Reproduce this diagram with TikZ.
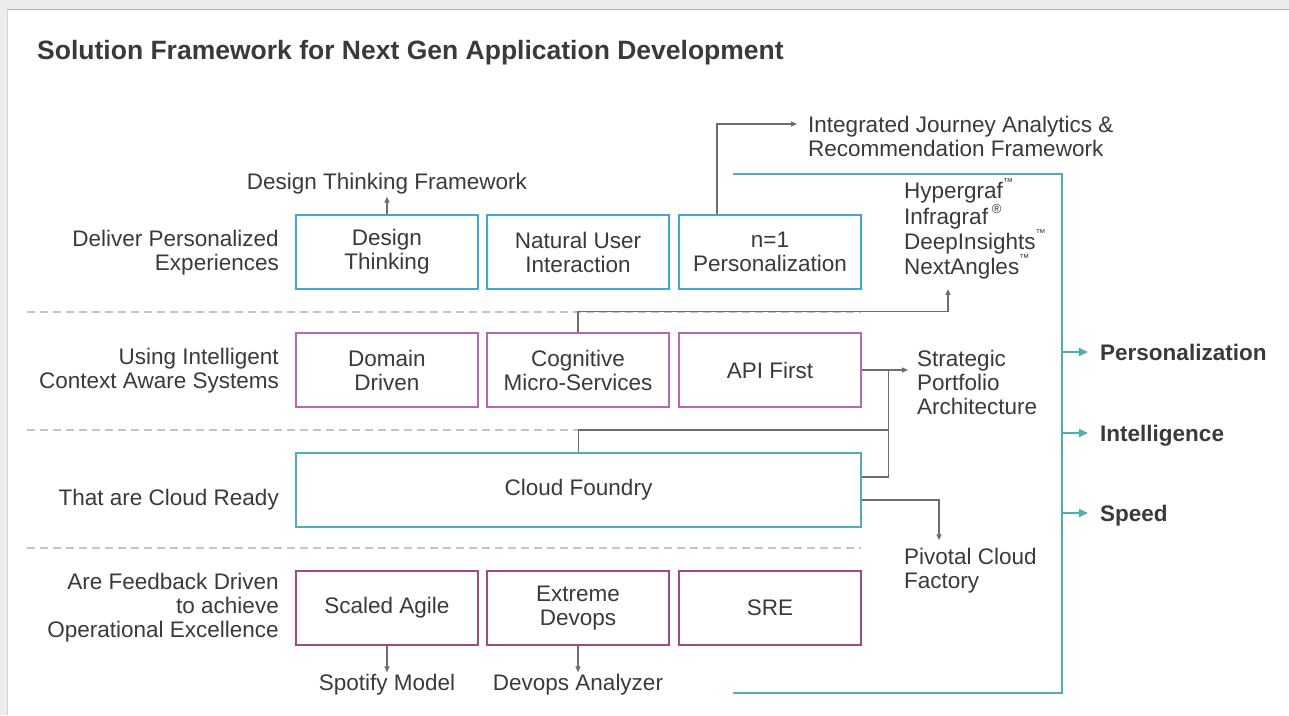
\documentclass[tikz,border=0pt]{standalone}
\usepackage{fontspec}
\setmainfont{Liberation Sans}
\usepackage{tikz}
\usetikzlibrary{arrows.meta}
\definecolor{txt}{HTML}{3A3A3A}
\definecolor{arrg}{HTML}{6E6E6E}
\definecolor{sepg}{HTML}{C4C4CA}
\definecolor{bgg}{HTML}{ECECEC}
\definecolor{topl}{HTML}{B4B4B4}
\definecolor{blu}{HTML}{3FA8D6}
\definecolor{pur}{HTML}{B468B6}
\definecolor{tea}{HTML}{52AEB5}
\definecolor{mag}{HTML}{A6487F}
\newcommand{\tmk}{\raisebox{1.1ex}{\fontsize{10}{10}\selectfont ™}}
\newcommand{\regk}{\,\raisebox{0.95ex}{\fontsize{13}{13}\selectfont ®}}

\begin{document}
\begin{tikzpicture}[x=1pt,y=-1pt,
  every node/.style={text=txt,font=\fontsize{22.5}{24}\selectfont,inner sep=2pt},
  box/.style={draw,line width=1.3pt,minimum width=182,minimum height=74,align=center},
  lbl/.style={align=right,anchor=east},
  note/.style={align=left,anchor=west},
  outl/.style={anchor=west,inner xsep=12pt,text height=16pt,text depth=0pt,
    font=\bfseries\fontsize{22.5}{24}\selectfont},
  con/.style={draw=arrg,line width=1.3pt},
  arr/.style={con,-{Triangle[length=6pt,width=5pt]}},
  tarr/.style={draw=tea,line width=1.5pt,-{Triangle[length=9pt,width=8pt]}},
  sep/.style={draw=sepg,line width=1.3pt,dash pattern=on 8pt off 5pt}]
\useasboundingbox (0,0) rectangle (1289,715);
\fill[bgg] (0,0) rectangle (1289,715);
\fill[white] (7,10) rectangle (1289,715);
\draw[topl,line width=1.5pt] (7,9.5) -- (1289,9.5);
\draw[topl!60,line width=1pt] (7,10) -- (7,715);

\node[anchor=west,font=\bfseries\fontsize{26.5}{28}\selectfont] (ttl) at (35,53) {Solution Framework for Next Gen Application Development};

\foreach \y in {312,430,548} \draw[sep] (27,\y) -- (861,\y);

\node[lbl] (l1) at (281,253) {Deliver Personalized\\Experiences};
\node[lbl] (l2) at (281,371) {Using Intelligent\\Context Aware Systems};
\node[lbl] (l3) at (281,500) {That are Cloud Ready};
\node[lbl] (l4) at (281,608) {Are Feedback Driven\\to achieve\\Operational Excellence};

\node[box,draw=blu] (dt) at (387,252) {Design\\Thinking};
\node[box,draw=blu] (nui) at (578,252) {Natural User\\Interaction};
\node[box,draw=blu] (pers) at (770,252) {n=1\\Personalization};
\node[box,draw=pur] (dd) at (387,370) {Domain\\Driven};
\node[box,draw=pur] (cms) at (578,370) {Cognitive\\Micro-Services};
\node[box,draw=pur] (api) at (770,370) {API First};
\node[box,draw=tea,minimum width=565] (cf) at (578.5,490) {Cloud Foundry};
\node[box,draw=mag] (sa) at (387,608) {Scaled Agile};
\node[box,draw=mag] (ed) at (578,608) {Extreme\\Devops};
\node[box,draw=mag] (sre) at (770,608) {SRE};

\node (dtf) at (387,184) {Design Thinking Framework};
\node[note] (ija) at (806,136) {Integrated Journey Analytics \&\\Recommendation Framework};
\node[note,font=\fontsize{22.5}{25}\selectfont] (hyp) at (902,229) {Hypergraf\tmk\\Infragraf\regk\\DeepInsights\tmk\\NextAngles\tmk};
\node[note] (spa) at (915,382) {Strategic\\Portfolio\\Architecture};
\node[note] (pcf) at (902,571) {Pivotal Cloud\\Factory};
\node (spm) at (387,685) {Spotify Model};
\node (dva) at (578,685) {Devops Analyzer};
\coordinate (hypIn) at (948,289);
\coordinate (jn) at (888,430);

\draw[arr] (dt.north) -- (dtf.south);
\draw[arr] ([xshift=-53pt]pers.north) |- ([xshift=-9pt,yshift=12pt]ija.west);
\draw[arr] (cms.north) -- ++(0,-21) -| (hypIn);
\draw[arr] (api.east) -- ([xshift=-7pt,yshift=12pt]spa.west);
\draw[con] (cf.north) |- (jn);
\draw[con] ([yshift=13pt]cf.east) -| ([xshift=27pt]api.east);
\draw[arr] ([yshift=-10pt]cf.east) -| ([xshift=37pt,yshift=6pt]pcf.north west);
\draw[arr] (sa.south) -- (spm.north);
\draw[arr] (ed.south) -- (dva.north);

\draw[tea,line width=1.5pt] (733,174) -| (1062,693) -- (733,693);
\foreach \y/\t/\n in {352/Personalization/o1,433/Intelligence/o2,513/Speed/o3}{
  \node[outl] (\n) at (1088,\y) {\t};
  \draw[tarr] (1062,\y) -- (\n.west);
}
\end{tikzpicture}
\end{document}
